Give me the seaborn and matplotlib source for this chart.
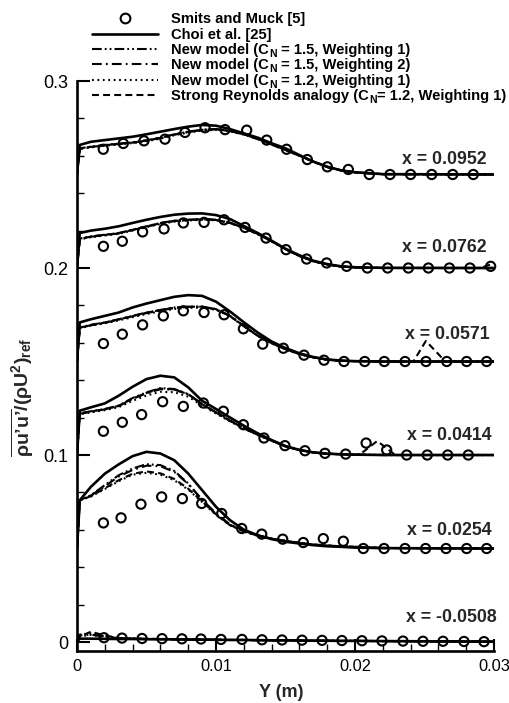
import numpy as np
import matplotlib
matplotlib.use("Agg")
import matplotlib.pyplot as plt
from matplotlib.lines import Line2D
from matplotlib.ticker import MultipleLocator, FixedLocator
import seaborn as sns

sns.set_style("ticks")
plt.rcParams["font.family"] = ["Liberation Sans", "DejaVu Sans"]
plt.rcParams["mathtext.fontset"] = "custom"
plt.rcParams["mathtext.rm"] = "Liberation Sans"
plt.rcParams["mathtext.bf"] = "Liberation Sans:bold"
plt.rcParams["mathtext.it"] = "Liberation Sans:italic"
plt.rcParams["lines.scale_dashes"] = False

# ---------------- data ----------------
STATIONS = ["x = -0.0508", "x = 0.0254", "x = 0.0414", "x = 0.0571", "x = 0.0762", "x = 0.0952"]
OFFSETS = [0.0, 0.05, 0.10, 0.15, 0.20, 0.25]

Y_LINE = [0, 0.0002, 0.001, 0.002, 0.003, 0.004, 0.005, 0.006, 0.007, 0.008, 0.009, 0.010,
          0.011, 0.012, 0.013, 0.014, 0.015, 0.016, 0.017, 0.018, 0.019, 0.020, 0.022, 0.030]

CHOI_M0508 = [0, 0.0018, 0.0018, 0.0017, 0.0016, 0.0016, 0.0015, 0.0015, 0.0014, 0.0013, 0.0013, 0.0012, 0.0011, 0.0011, 0.0010, 0.0009, 0.0009, 0.0008, 0.0007, 0.0007, 0.0006, 0.0006, 0.0005, 0.0002]
CHOI_0254 = [0, 0.0258, 0.0330, 0.0400, 0.0450, 0.0494, 0.0517, 0.0508, 0.0472, 0.0401, 0.0312, 0.0223, 0.0152, 0.0101, 0.0071, 0.0050, 0.0036, 0.0027, 0.0018, 0.0012, 0.0009, 0.0005, 0.0002, 0.0000]
CHOI_0414 = [0, 0.0237, 0.0255, 0.0276, 0.0317, 0.0365, 0.0406, 0.0424, 0.0415, 0.0362, 0.0290, 0.0246, 0.0201, 0.0157, 0.0116, 0.0080, 0.0048, 0.0027, 0.0014, 0.0007, 0.0004, 0.0002, 0.0000, 0.0000]
CHOI_0571 = [0, 0.0209, 0.0226, 0.0244, 0.0262, 0.0289, 0.0310, 0.0328, 0.0346, 0.0355, 0.0351, 0.0320, 0.0268, 0.0210, 0.0155, 0.0107, 0.0072, 0.0044, 0.0024, 0.0011, 0.0005, 0.0002, 0.0000, 0.0000]
CHOI_0762 = [0, 0.0187, 0.0200, 0.0210, 0.0223, 0.0241, 0.0258, 0.0273, 0.0285, 0.0291, 0.0292, 0.0283, 0.0262, 0.0225, 0.0187, 0.0146, 0.0103, 0.0068, 0.0039, 0.0021, 0.0009, 0.0004, 0.0001, 0.0000]
CHOI_0952 = [0, 0.0158, 0.0175, 0.0184, 0.0193, 0.0202, 0.0215, 0.0229, 0.0243, 0.0256, 0.0265, 0.0261, 0.0243, 0.0220, 0.0197, 0.0167, 0.0140, 0.0104, 0.0069, 0.0042, 0.0022, 0.0012, 0.0002, 0.0000]

NM15W1_M0508 = [0, 0.0040, 0.0045, 0.0030, 0.0022, 0.0019, 0.0017, 0.0016, 0.0015, 0.0014, 0.0013, 0.0012, 0.0011, 0.0011, 0.0010, 0.0009, 0.0009, 0.0008, 0.0007, 0.0007, 0.0006, 0.0006, 0.0005, 0.0002]
NM15W1_0254 = [0, 0.0258, 0.0285, 0.0339, 0.0392, 0.0428, 0.0451, 0.0446, 0.0415, 0.0348, 0.0258, 0.0183, 0.0125, 0.0094, 0.0071, 0.0053, 0.0041, 0.0030, 0.0021, 0.0016, 0.0012, 0.0009, 0.0003, 0.0000]
NM15W1_0414 = [0, 0.0223, 0.0234, 0.0246, 0.0264, 0.0305, 0.0335, 0.0358, 0.0353, 0.0326, 0.0273, 0.0228, 0.0184, 0.0144, 0.0109, 0.0077, 0.0046, 0.0027, 0.0014, 0.0007, 0.0004, 0.0002, 0.0000, 0.0000]
NM15W1_0571 = [0, 0.0182, 0.0196, 0.0209, 0.0226, 0.0244, 0.0262, 0.0276, 0.0289, 0.0294, 0.0294, 0.0280, 0.0244, 0.0190, 0.0138, 0.0098, 0.0066, 0.0040, 0.0022, 0.0010, 0.0004, 0.0002, 0.0000, 0.0000]
NM15W1_0762 = [0, 0.0157, 0.0169, 0.0178, 0.0187, 0.0205, 0.0223, 0.0241, 0.0253, 0.0258, 0.0262, 0.0258, 0.0242, 0.0215, 0.0182, 0.0143, 0.0101, 0.0064, 0.0036, 0.0019, 0.0008, 0.0003, 0.0000, 0.0000]
NM15W1_0952 = [0, 0.0140, 0.0149, 0.0158, 0.0165, 0.0172, 0.0183, 0.0197, 0.0215, 0.0229, 0.0240, 0.0243, 0.0234, 0.0215, 0.0190, 0.0161, 0.0131, 0.0101, 0.0069, 0.0040, 0.0022, 0.0011, 0.0002, 0.0000]

NM15W2_M0508 = [0, 0.0035, 0.0040, 0.0028, 0.0021, 0.0018, 0.0017, 0.0016, 0.0015, 0.0014, 0.0013, 0.0012, 0.0011, 0.0011, 0.0010, 0.0009, 0.0009, 0.0008, 0.0007, 0.0007, 0.0006, 0.0006, 0.0005, 0.0002]
NM15W2_0254 = [0, 0.0258, 0.0283, 0.0333, 0.0385, 0.0420, 0.0443, 0.0440, 0.0410, 0.0345, 0.0262, 0.0188, 0.0130, 0.0095, 0.0071, 0.0053, 0.0041, 0.0030, 0.0021, 0.0016, 0.0012, 0.0009, 0.0003, 0.0000]
NM15W2_0414 = [0, 0.0220, 0.0232, 0.0244, 0.0262, 0.0300, 0.0330, 0.0352, 0.0350, 0.0324, 0.0272, 0.0228, 0.0184, 0.0144, 0.0109, 0.0077, 0.0046, 0.0027, 0.0014, 0.0007, 0.0004, 0.0002, 0.0000, 0.0000]
NM15W2_0571 = [0, 0.0180, 0.0194, 0.0207, 0.0224, 0.0242, 0.0259, 0.0273, 0.0286, 0.0292, 0.0292, 0.0279, 0.0244, 0.0190, 0.0138, 0.0098, 0.0066, 0.0040, 0.0022, 0.0010, 0.0004, 0.0002, 0.0000, 0.0000]
NM15W2_0762 = [0, 0.0155, 0.0167, 0.0176, 0.0185, 0.0203, 0.0221, 0.0239, 0.0251, 0.0257, 0.0261, 0.0257, 0.0242, 0.0215, 0.0182, 0.0143, 0.0101, 0.0064, 0.0036, 0.0019, 0.0008, 0.0003, 0.0000, 0.0000]
NM15W2_0952 = [0, 0.0138, 0.0147, 0.0156, 0.0163, 0.0170, 0.0181, 0.0195, 0.0213, 0.0227, 0.0238, 0.0242, 0.0233, 0.0215, 0.0190, 0.0161, 0.0131, 0.0101, 0.0069, 0.0040, 0.0022, 0.0011, 0.0002, 0.0000]

NM12W1_M0508 = [0, 0.0030, 0.0038, 0.0026, 0.0020, 0.0018, 0.0016, 0.0015, 0.0014, 0.0014, 0.0013, 0.0012, 0.0011, 0.0011, 0.0010, 0.0009, 0.0009, 0.0008, 0.0007, 0.0007, 0.0006, 0.0006, 0.0005, 0.0002]
NM12W1_0254 = [0, 0.0258, 0.0278, 0.0318, 0.0360, 0.0395, 0.0405, 0.0395, 0.0365, 0.0315, 0.0248, 0.0180, 0.0125, 0.0090, 0.0068, 0.0052, 0.0040, 0.0030, 0.0021, 0.0016, 0.0012, 0.0009, 0.0003, 0.0000]
NM12W1_0414 = [0, 0.0218, 0.0228, 0.0240, 0.0256, 0.0290, 0.0318, 0.0338, 0.0336, 0.0312, 0.0265, 0.0222, 0.0180, 0.0141, 0.0107, 0.0076, 0.0046, 0.0027, 0.0014, 0.0007, 0.0004, 0.0002, 0.0000, 0.0000]
NM12W1_0571 = [0, 0.0178, 0.0192, 0.0204, 0.0220, 0.0237, 0.0254, 0.0268, 0.0281, 0.0287, 0.0288, 0.0276, 0.0242, 0.0188, 0.0137, 0.0097, 0.0065, 0.0040, 0.0022, 0.0010, 0.0004, 0.0002, 0.0000, 0.0000]
NM12W1_0762 = [0, 0.0153, 0.0165, 0.0174, 0.0183, 0.0200, 0.0218, 0.0236, 0.0248, 0.0254, 0.0258, 0.0255, 0.0240, 0.0214, 0.0181, 0.0142, 0.0100, 0.0064, 0.0036, 0.0019, 0.0008, 0.0003, 0.0000, 0.0000]
NM12W1_0952 = [0, 0.0136, 0.0145, 0.0154, 0.0161, 0.0168, 0.0178, 0.0192, 0.0210, 0.0224, 0.0235, 0.0239, 0.0231, 0.0213, 0.0189, 0.0160, 0.0130, 0.0100, 0.0068, 0.0040, 0.0022, 0.0011, 0.0002, 0.0000]

SRA_M0508 = [0, 0.0030, 0.0055, 0.0035, 0.0022, 0.0018, 0.0016, 0.0015, 0.0014, 0.0014, 0.0013, 0.0012, 0.0011, 0.0011, 0.0010, 0.0009, 0.0009, 0.0008, 0.0007, 0.0007, 0.0006, 0.0006, 0.0005, 0.0002]
SRA_0254 = [0, 0.0258, 0.0280, 0.0322, 0.0365, 0.0400, 0.0412, 0.0402, 0.0372, 0.0320, 0.0252, 0.0183, 0.0127, 0.0091, 0.0069, 0.0052, 0.0040, 0.0030, 0.0021, 0.0016, 0.0012, 0.0009, 0.0003, 0.0000]
SRA_0414 = [0, 0.0222, 0.0233, 0.0245, 0.0263, 0.0302, 0.0332, 0.0355, 0.0351, 0.0325, 0.0272, 0.0227, 0.0183, 0.0143, 0.0108, 0.0077, 0.0046, 0.0027, 0.0014, 0.0007, 0.0004, 0.0002, 0.0000, 0.0000]
SRA_0571 = [0, 0.0181, 0.0195, 0.0208, 0.0225, 0.0243, 0.0261, 0.0275, 0.0288, 0.0293, 0.0293, 0.0280, 0.0244, 0.0190, 0.0138, 0.0098, 0.0066, 0.0040, 0.0022, 0.0010, 0.0004, 0.0002, 0.0000, 0.0000]
SRA_0762 = [0, 0.0156, 0.0168, 0.0177, 0.0186, 0.0204, 0.0222, 0.0240, 0.0252, 0.0257, 0.0261, 0.0257, 0.0242, 0.0215, 0.0182, 0.0143, 0.0101, 0.0064, 0.0036, 0.0019, 0.0008, 0.0003, 0.0000, 0.0000]
SRA_0952 = [0, 0.0139, 0.0148, 0.0157, 0.0164, 0.0171, 0.0182, 0.0196, 0.0214, 0.0228, 0.0239, 0.0242, 0.0233, 0.0215, 0.0190, 0.0161, 0.0131, 0.0101, 0.0069, 0.0040, 0.0022, 0.0011, 0.0002, 0.0000]

# local spikes of the strong Reynolds analogy curve
SRA_BUMP_0414_Y = [0.0203, 0.0216, 0.0229]
SRA_BUMP_0414_V = [0.0, 0.0075, 0.0]
SRA_BUMP_0571_Y = [0.0242, 0.0251, 0.0265]
SRA_BUMP_0571_V = [0.0, 0.0110, 0.0]
SRA_BUMP_0762_Y = [0.0290, 0.0300]
SRA_BUMP_0762_V = [0.0, 0.0025]

# Smits and Muck experiment
EXP_Y_M0508 = [0.00194, 0.00324, 0.00468, 0.00612, 0.00755, 0.00892, 0.01036, 0.01187, 0.01331, 0.01475, 0.01619, 0.01763, 0.01906, 0.02050, 0.02194, 0.02345, 0.02489, 0.02633, 0.02784, 0.02928]
EXP_V_M0508 = [0.0023, 0.0021, 0.0019, 0.0018, 0.0017, 0.0016, 0.0014, 0.0014, 0.0012, 0.0011, 0.0010, 0.0009, 0.0008, 0.0007, 0.0006, 0.0005, 0.0004, 0.0004, 0.0003, 0.0002]
EXP_Y_0254 = [0.0019, 0.00317, 0.0046, 0.00609, 0.00758, 0.00897, 0.01041, 0.01185, 0.01329, 0.0148, 0.01628, 0.01772, 0.01916, 0.0206, 0.02209, 0.0236, 0.02508, 0.02655, 0.02803, 0.02947]
EXP_V_0254 = [0.0137, 0.0164, 0.0237, 0.0276, 0.0267, 0.0241, 0.0187, 0.0107, 0.0077, 0.0050, 0.0032, 0.0053, 0.0039, 0.0, 0.0, 0.0, 0.0, 0.0, 0.0, 0.0]
EXP_Y_0414 = [0.0019, 0.00326, 0.00465, 0.00616, 0.00765, 0.00909, 0.01053, 0.01197, 0.01345, 0.01496, 0.0164, 0.01784, 0.01933, 0.0208, 0.02228, 0.02372, 0.0252, 0.02667, 0.02815]
EXP_V_0414 = [0.0127, 0.0175, 0.0216, 0.0285, 0.0260, 0.0278, 0.0234, 0.0162, 0.0091, 0.0050, 0.0023, 0.0009, 0.0005, 0.0064, 0.0027, 0.0, 0.0, 0.0, 0.0]
EXP_Y_0571 = [0.0019, 0.00326, 0.00472, 0.00621, 0.00765, 0.00914, 0.01058, 0.01197, 0.01336, 0.01485, 0.01633, 0.01777, 0.01921, 0.0207, 0.02211, 0.0236, 0.02511, 0.0266, 0.02803, 0.02947]
EXP_V_0571 = [0.0096, 0.0146, 0.0196, 0.0244, 0.0271, 0.0262, 0.0250, 0.0175, 0.0093, 0.0071, 0.0034, 0.0007, 0.0, 0.0, 0.0, 0.0, 0.0, 0.0, 0.0, 0.0]
EXP_Y_0762 = [0.0019, 0.00326, 0.00472, 0.00626, 0.00765, 0.00914, 0.01058, 0.01209, 0.0136, 0.01504, 0.01652, 0.01796, 0.0194, 0.02089, 0.02235, 0.02384, 0.02528, 0.02679, 0.02827, 0.02976]
EXP_V_0762 = [0.0116, 0.0143, 0.0193, 0.0209, 0.0241, 0.0244, 0.0258, 0.0217, 0.0160, 0.0098, 0.0048, 0.0027, 0.0009, 0.0, 0.0, 0.0, 0.0, 0.0, 0.0, 0.0009]
EXP_Y_0952 = [0.00189, 0.00333, 0.00482, 0.00633, 0.00777, 0.00921, 0.01065, 0.01221, 0.01365, 0.01508, 0.01657, 0.01801, 0.01952, 0.02103, 0.02252, 0.024, 0.02552, 0.02703, 0.02851]
EXP_V_0952 = [0.0135, 0.0166, 0.0180, 0.0189, 0.0225, 0.0250, 0.0240, 0.0237, 0.0184, 0.0135, 0.0080, 0.0041, 0.0027, 0.0, 0.0, 0.0, 0.0, 0.0, 0.0]

# legend labels: (text, is_subscript) pieces
LABELS = [[("Smits and Muck [5]", False)],
          [("Choi et al. [25]", False)],
          [("New model (C", False), ("N", True), (" = 1.5, Weighting 1)", False)],
          [("New model (C", False), ("N", True), (" = 1.5, Weighting 2)", False)],
          [("New model (C", False), ("N", True), (" = 1.2, Weighting 1)", False)],
          [("Strong Reynolds analogy (C", False), ("N", True), ("= 1.2, Weighting 1)", False)]]

# ---------------- figure ----------------
W, H = 509, 703
fig = plt.figure(figsize=(W / 100, H / 100), dpi=100)
ax = fig.add_axes([77 / W, 1 - 651 / H, (494 - 77) / W, (651 - 81) / H])

STY_CHOI = dict(color="k", lw=1.9, linestyle="-")
STY_W1 = dict(color="k", lw=1.5, linestyle=(0, (7, 2.2, 1.3, 2.2, 1.3, 2.2)))
STY_W2 = dict(color="k", lw=1.5, linestyle=(0, (7, 3, 1.3, 3)))
STY_12 = dict(color="k", lw=1.5, linestyle=(0, (1.3, 2.6)))
STY_SRA = dict(color="k", lw=1.5, linestyle=(0, (5, 3)))


def merged(grid, vals, by=None, bv=None):
    pts = list(zip(grid, vals))
    if by is not None:
        pts = [p for p in pts if p[0] < by[0] or p[0] > by[-1]] + list(zip(by, bv))
        pts.sort()
    xs, ys = zip(*pts)
    return np.array(xs), np.array(ys)


choi = [CHOI_M0508, CHOI_0254, CHOI_0414, CHOI_0571, CHOI_0762, CHOI_0952]
w1 = [NM15W1_M0508, NM15W1_0254, NM15W1_0414, NM15W1_0571, NM15W1_0762, NM15W1_0952]
w2 = [NM15W2_M0508, NM15W2_0254, NM15W2_0414, NM15W2_0571, NM15W2_0762, NM15W2_0952]
n12 = [NM12W1_M0508, NM12W1_0254, NM12W1_0414, NM12W1_0571, NM12W1_0762, NM12W1_0952]
sra = [SRA_M0508, SRA_0254, SRA_0414, SRA_0571, SRA_0762, SRA_0952]
sra_bumps = [None, None, (SRA_BUMP_0414_Y, SRA_BUMP_0414_V), (SRA_BUMP_0571_Y, SRA_BUMP_0571_V),
             (SRA_BUMP_0762_Y, SRA_BUMP_0762_V), None]
exp_y = [EXP_Y_M0508, EXP_Y_0254, EXP_Y_0414, EXP_Y_0571, EXP_Y_0762, EXP_Y_0952]
exp_v = [EXP_V_M0508, EXP_V_0254, EXP_V_0414, EXP_V_0571, EXP_V_0762, EXP_V_0952]

for i, off in enumerate(OFFSETS):
    for series, sty in [(n12, STY_12), (w2, STY_W2), (w1, STY_W1), (choi, STY_CHOI)]:
        xs, ys = merged(Y_LINE, series[i])
        sns.lineplot(x=xs, y=ys + off, ax=ax, estimator=None, sort=False, legend=False, **sty)
    b = sra_bumps[i]
    if b is None:
        xs, ys = merged(Y_LINE, sra[i])
    else:
        xs, ys = merged(Y_LINE, sra[i], b[0], b[1])
    sns.lineplot(x=xs, y=ys + off, ax=ax, estimator=None, sort=False, legend=False, **STY_SRA)
    sns.scatterplot(x=np.array(exp_y[i]), y=np.array(exp_v[i]) + off, ax=ax, marker="o", s=44,
                    color="k", facecolors="none", edgecolor="k", linewidth=1.5, zorder=4,
                    legend=False, clip_on=False)

# station labels
LABEL_POS = [(0.0302, 0.0131), (0.0298, 0.0099), (0.0298, 0.0107), (0.0297, 0.0142),
             (0.0295, 0.0110), (0.0295, 0.0078)]
for lab, off, (lx, ly) in zip(STATIONS, OFFSETS, LABEL_POS):
    ax.text(lx, off + ly, lab, ha="right", va="center", fontsize=12.8, fontweight="bold",
            clip_on=False, zorder=5)

ax.set_xlim(0, 0.03)
ax.set_ylim(-0.0048, 0.3)
ax.xaxis.set_major_locator(FixedLocator([0, 0.01, 0.02, 0.03]))
ax.xaxis.set_minor_locator(MultipleLocator(0.002))
ax.yaxis.set_major_locator(FixedLocator([0, 0.1, 0.2, 0.3]))
ax.yaxis.set_minor_locator(MultipleLocator(0.02))
ax.set_xticklabels(["0", "0.01", "0.02", "0.03"])
ax.set_yticklabels(["0", "0.1", "0.2", "0.3"])
ax.tick_params(which="major", direction="in", length=9, width=1.5, labelsize=11.8, pad=6,
               top=False, right=False, color="k", labelcolor="k")
ax.tick_params(axis="y", which="major", labelsize=13)
ax.tick_params(which="minor", direction="in", length=5, width=1.0, top=False, right=False, color="k")
for s in ["top", "right"]:
    ax.spines[s].set_visible(False)
for s in ["left", "bottom"]:
    ax.spines[s].set_linewidth(1.9)
    ax.spines[s].set_color("k")

ax.set_xlabel("Y (m)", fontsize=13, fontweight="bold")
ax.xaxis.set_label_coords(0.49, -0.058)
ax.set_ylabel("$\\overline{\\mathbf{\\rho u\u2019u\u2019}}\\mathbf{/(\\rho U^2)_{ref}}$", fontsize=14)
ax.yaxis.set_label_coords(-0.098, 0.445)

# legend (drawn row by row at the reference's row positions)
handles = [Line2D([], [], ls="none", marker="o", mfc="none", mec="k", ms=7, mew=1.5),
           Line2D([], [], **STY_CHOI),
           Line2D([], [], **STY_W1),
           Line2D([], [], **STY_W2),
           Line2D([], [], **STY_12),
           Line2D([], [], **STY_SRA)]
ROW_Y = [18.3, 33.6, 49.0, 64.4, 79.8, 95.4]
renderer = fig.canvas.get_renderer()
for h, parts, ry in zip(handles, LABELS, ROW_Y):
    yf = 1 - ry / H
    if h.get_marker() == "o":
        h.set_data([125 / W], [yf])
    else:
        h.set_data([92 / W, 158 / W], [yf, yf])
    h.set_transform(fig.transFigure)
    fig.add_artist(h)
    base = ry + 5.0          # baseline in pixels from top
    xpx = 171.0
    for txt, sub in parts:
        size = 7.6 if sub else 10.6
        by = base + (3.0 if sub else 0.0)
        t = fig.text(xpx / W, 1 - by / H, txt, ha="left", va="baseline", fontsize=size,
                     fontweight="bold", color="k")
        xpx += t.get_window_extent(renderer).width + (0.8 if sub else 0.0)

fig.savefig("out.png", dpi=100)
